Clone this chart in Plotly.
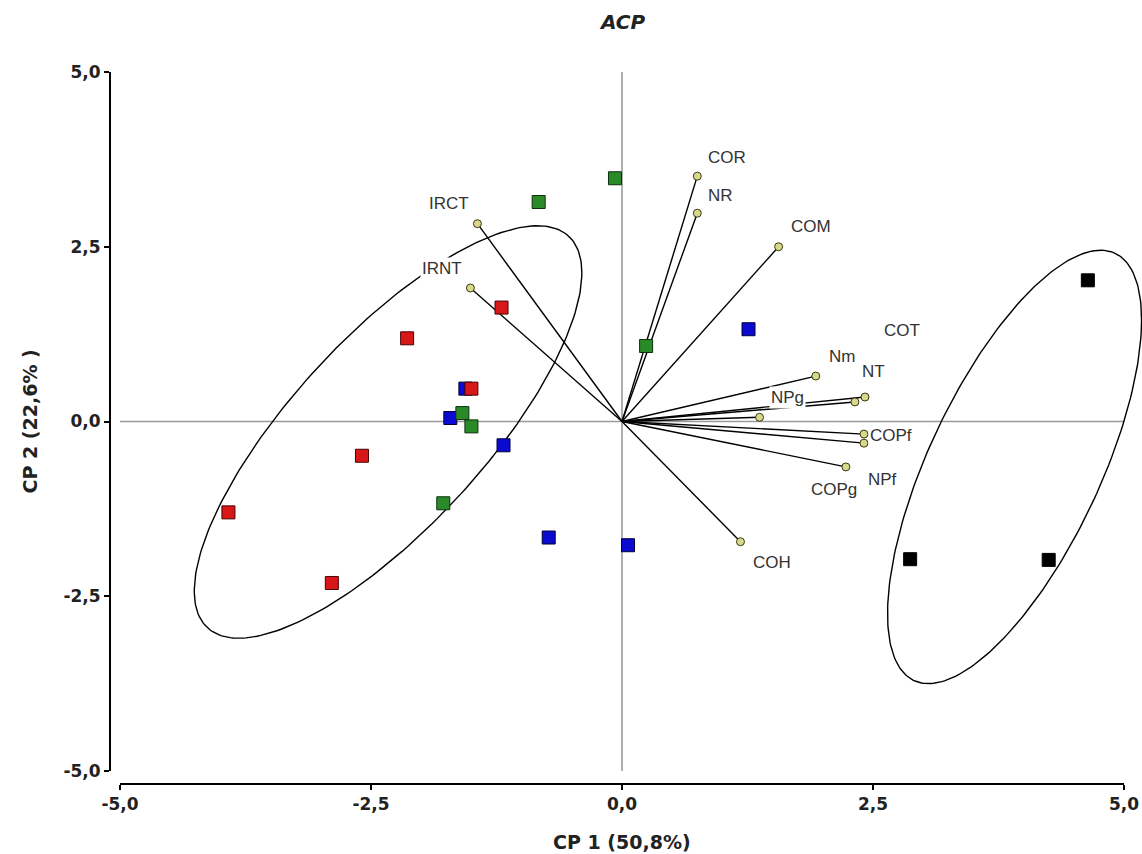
import numpy as np
import plotly.graph_objects as go

# ---------------- data ----------------
blue_x = [1.26, -1.71, -1.56, -1.18, -0.73, 0.06]
blue_y = [1.32, 0.05, 0.47, -0.34, -1.66, -1.77]
green_x = [-0.07, -0.83, 0.24, -1.59, -1.50, -1.78]
green_y = [3.48, 3.14, 1.08, 0.12, -0.07, -1.17]
red_x = [-1.20, -2.14, -1.50, -2.59, -3.92, -2.89]
red_y = [1.63, 1.19, 0.47, -0.49, -1.30, -2.31]
black_x = [4.64, 2.87, 4.25]
black_y = [2.02, -1.97, -1.98]

var_names = ["COR", "NR", "COM", "IRCT", "IRNT", "Nm", "NT", "COT",
             "NPg", "COPf", "NPf", "COPg", "COH"]
var_x = [0.75, 0.75, 1.56, -1.44, -1.51, 1.93, 2.42, 2.32, 1.37, 2.41, 2.41, 2.23, 1.18]
var_y = [3.51, 2.98, 2.50, 2.83, 1.91, 0.65, 0.35, 0.28, 0.06, -0.18, -0.31, -0.65, -1.72]

# ellipses: centre, half extent in x, half extent in y, phase between x and y
ell_left = dict(cx=-2.33, cy=-0.15, hx=1.93, hy=2.95, phase=0.69)
ell_right = dict(cx=3.91, cy=-0.65, hx=1.265, hy=3.10, phase=0.826)

tick_vals = [-5, -2.5, 0, 2.5, 5]
tick_text = ["-5,0", "-2,5", "0,0", "2,5", "5,0"]

x_title = "CP 1 (50,8%)"
y_title = "CP 2 (22,6% )"
main_title = "ACP"

# ---------------- styling (label offsets in pixels) ----------------
label_dx = [30, 23, 32, -28, -28, 26, 9, 47, 28, 27, 19, -12, 32]
label_dy = [19, 18, 20, 20, 19, 20, 26, 71, 20, -1, -36, -23, -21]

TICK_FONT = dict(family="DejaVu Sans", size=17, color="#222222", weight="bold")
AXT_FONT = dict(family="DejaVu Sans", size=19, color="#222222", weight="bold")
LAB_FONT = dict(family="Liberation Sans, Arial", size=17, color="#333333")

fig = go.Figure()


def ellipse(p):
    t = np.linspace(0, 2 * np.pi, 240)
    return p["cx"] + p["hx"] * np.cos(t), p["cy"] + p["hy"] * np.cos(t - p["phase"])


for p in (ell_left, ell_right):
    ex, ey = ellipse(p)
    fig.add_trace(go.Scatter(x=ex, y=ey, mode="lines",
                             line=dict(color="black", width=1.4),
                             hoverinfo="skip"))

# vectors from origin
vx, vy = [], []
for x, y in zip(var_x, var_y):
    vx += [0, x, None]
    vy += [0, y, None]
fig.add_trace(go.Scatter(x=vx, y=vy, mode="lines",
                         line=dict(color="black", width=1.4), hoverinfo="skip"))
fig.add_trace(go.Scatter(x=var_x, y=var_y, mode="markers", text=var_names,
                         marker=dict(symbol="circle", size=8, color="#d8d88c",
                                     line=dict(color="#3a3a10", width=1))))

groups = [
    (blue_x, blue_y, "#0a0ad0", "#00003a"),
    (green_x, green_y, "#2a8a2a", "#0a300a"),
    (red_x, red_y, "#d81818", "#4a0000"),
    (black_x, black_y, "#000000", "#000000"),
]
for gx, gy, fc, lc in groups:
    fig.add_trace(go.Scatter(x=gx, y=gy, mode="markers",
                             marker=dict(symbol="square", size=13, color=fc,
                                         line=dict(color=lc, width=1))))

# variable labels (white boxes, as in the reference)
for name, x, y, dx, dy in zip(var_names, var_x, var_y, label_dx, label_dy):
    fig.add_annotation(x=x, y=y, xref="x", yref="y", text=name, showarrow=False,
                       xshift=dx, yshift=dy, bgcolor="white", borderpad=1,
                       font=LAB_FONT)

shapes = [
    dict(type="line", xref="x", yref="y", x0=-5, x1=5, y0=0, y1=0,
         line=dict(color="#9a9a9a", width=1.6), layer="below"),
    dict(type="line", xref="x", yref="y", x0=0, x1=0, y0=-5, y1=5,
         line=dict(color="#9a9a9a", width=1.6), layer="below"),
    dict(type="line", xref="x", yref="paper", x0=-5, x1=5, y0=0, y1=0,
         line=dict(color="black", width=2)),
    dict(type="line", xref="paper", yref="y", x0=0, x1=0, y0=-5, y1=5,
         line=dict(color="black", width=2)),
]

fig.add_annotation(x=0, y=0, xref="x", yref="paper", text=x_title, showarrow=False,
                   yanchor="middle", yshift=-58, font=AXT_FONT)
fig.add_annotation(x=0, y=0, xref="paper", yref="y", text=y_title, showarrow=False,
                   textangle=-90, xanchor="center", xshift=-81, font=AXT_FONT)
fig.add_annotation(x=0, y=1, xref="x", yref="paper", text="<i>" + main_title + "</i>",
                   showarrow=False, yanchor="middle", yshift=50,
                   font=dict(family="DejaVu Sans", size=20, color="#222222", weight="bold"))

axis_common = dict(tickvals=tick_vals, ticktext=tick_text, ticks="outside", ticklen=5,
                   tickwidth=1.5, tickcolor="black", showgrid=False, zeroline=False,
                   showline=False, tickfont=TICK_FONT)

fig.update_layout(
    width=1142, height=854,
    margin=dict(l=110, r=0, t=72, b=70),
    plot_bgcolor="white", paper_bgcolor="white",
    showlegend=False,
    shapes=shapes,
    xaxis=dict(range=[-5.0996, 5.1793], **axis_common),
    yaxis=dict(range=[-5.186, 5.0], **axis_common),
)

fig.write_html(
    "out.html",
    config={"displayModeBar": False},
    post_script="document.body.style.margin='0';document.body.style.overflow='hidden';",
)
